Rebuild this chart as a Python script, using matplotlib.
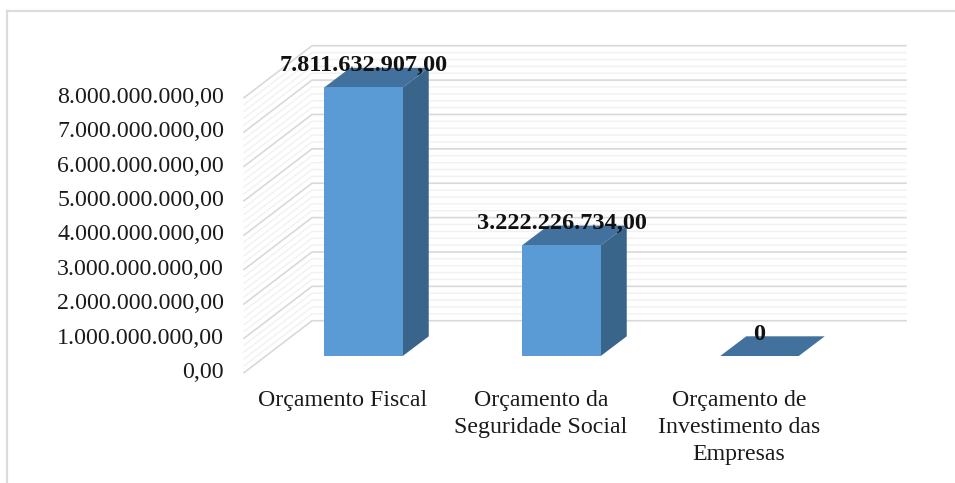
import matplotlib
matplotlib.use('Agg')
import numpy as np
import matplotlib.pyplot as plt
from matplotlib.patches import Rectangle
from matplotlib.transforms import Affine2D

plt.rcParams['font.family'] = ['Liberation Serif', 'DejaVu Sans']

categorias = ['Orçamento Fiscal', 'Orçamento da\nSeguridade Social',
              'Orçamento de\nInvestimento das\nEmpresas']
valores = [7811632907.00, 3222226734.00, 0]
rotulos = ['7.811.632.907,00', '3.222.226.734,00', '0']
ticks_y = [0, 1e9, 2e9, 3e9, 4e9, 5e9, 6e9, 7e9, 8e9]
ticks_lab = ['0,00', '1.000.000.000,00', '2.000.000.000,00', '3.000.000.000,00',
             '4.000.000.000,00', '5.000.000.000,00', '6.000.000.000,00',
             '7.000.000.000,00', '8.000.000.000,00']

W, H = 955, 483
px_x = 198.0        # pixels por categoria
px_y = 34.4 / 1e9   # pixels por unidade

fig = plt.figure(figsize=(W / 100, H / 100), dpi=100)
fig.patch.set_facecolor('white')

# moldura (so topo e esquerda aparecem)
fig.add_artist(plt.Line2D([7 / W, 7 / W], [0, 1 - 10.5 / H], color='#dcdcdc', lw=1.6))
fig.add_artist(plt.Line2D([7 / W, 1], [1 - 10.5 / H, 1 - 10.5 / H], color='#dcdcdc', lw=1.6))

ax = fig.add_axes([264.5 / W, 1 - 356 / H, 594 / W, 275 / H])
ax.set_xlim(-0.5, 2.5)
ax.set_ylim(0, 8e9)
ax.patch.set_visible(False)
for s in ax.spines.values():
    s.set_visible(False)


def desl(dx, dy):
    # passa deslocamento em pixels para unidades dos dados
    return dx / px_x, dy / px_y


# parede do fundo e parede lateral
fx, fy = desl(-20.5, -16.7)
bx, by = desl(47.5, 35.3)
for v in np.arange(0, 8.01e9, 0.2e9):
    major = abs(v % 1e9) < 1 or abs(v % 1e9 - 1e9) < 1
    cor = '#d9d9d9' if major else '#f1f1f1'
    lw = 1.2 if major else 1.0
    z = 2 if major else 1
    ax.plot([-0.5 + fx, -0.5 + bx, 2.5 + bx], [v + fy, v + by, v + by],
            color=cor, lw=lw, zorder=z, clip_on=False, solid_joinstyle='miter')

# barras em 3d
larg = 78.5 / px_x
px, py = desl(26, 19.7)
for i, v in enumerate(valores):
    x0 = i - larg / 2
    x1 = i + larg / 2
    ax.fill([x0, x1, x1 + px, x0 + px], [v, v, v + py, v + py],
            color='#41719c', lw=0, zorder=4, clip_on=False)
    if v > 0:
        ax.fill([x1, x1 + px, x1 + px, x1], [0, py, v + py, v],
                color='#3a658a', lw=0, zorder=4, clip_on=False)
        ax.add_patch(Rectangle((x0, 0), larg, v, color='#5b9bd5', lw=0,
                               zorder=5, clip_on=False))
    ax.annotate(rotulos[i], (i, v), xytext=(0, 22 * 0.72), textcoords='offset points',
                ha='center', va='center', fontsize=17.5, fontweight='bold',
                color='#111111', zorder=8, annotation_clip=False)

ax.set_yticks(ticks_y)
ax.set_yticklabels(ticks_lab)
ax.set_xticks(range(3))
ax.set_xticklabels(categorias, linespacing=1.37)
ax.tick_params(axis='y', length=0, pad=14.4, labelsize=17.2, labelcolor='#1a1a1a')
ax.tick_params(axis='x', length=0, pad=12.5, labelsize=17.2, labelcolor='#1a1a1a')

# rotulos ficam no plano da frente, nao no plano das barras
for lab in ax.get_yticklabels():
    lab.set_transform(lab.get_transform() + Affine2D().translate(-20.5, -14))
for lab in ax.get_xticklabels():
    lab.set_transform(lab.get_transform() + Affine2D().translate(-20.5, -17))

fig.savefig('out.png', dpi=100, facecolor='white')
